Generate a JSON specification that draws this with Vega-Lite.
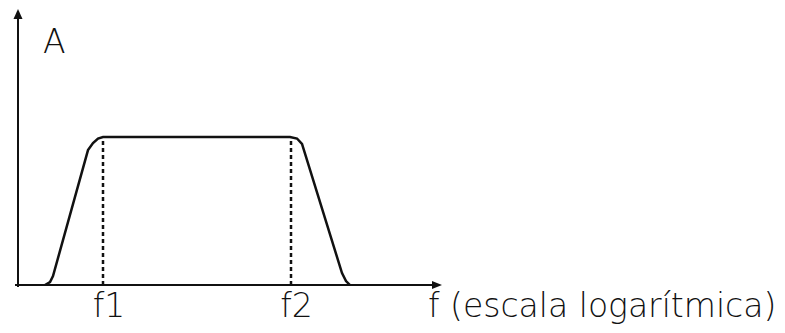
{
  "$schema": "https://vega.github.io/schema/vega-lite/v6.json",
  "autosize": {"type": "fit", "contains": "padding"},
  "width": 785,
  "height": 333,
  "padding": 0,
  "background": "white",
  "config": {"view": {"stroke": null}},
  "datasets": {
    "response": [
      {"f": 2.7, "A": 0},
      {"f": 3.2, "A": 0.02},
      {"f": 3.5, "A": 0.061},
      {"f": 7.0, "A": 0.912},
      {"f": 7.5, "A": 0.959},
      {"f": 8.0, "A": 0.99},
      {"f": 8.5, "A": 1},
      {"f": 27.2, "A": 1},
      {"f": 27.9, "A": 0.99},
      {"f": 28.4, "A": 0.953},
      {"f": 32.4, "A": 0.081},
      {"f": 32.8, "A": 0.027},
      {"f": 33.2, "A": 0}
    ],
    "cutoffs": [
      {"name": "f1", "f": 8.5, "A0": 0, "A1": 1, "labelF": 9.1},
      {"name": "f2", "f": 27.3, "A0": 0, "A1": 1, "labelF": 27.85}
    ],
    "axisLines": [
      {"x0": -0.3, "x1": 42.0, "y0": 0, "y1": 0},
      {"x0": 0, "x1": 0, "y0": -0.014, "y1": 1.8}
    ],
    "arrows": [
      {"x": 0, "y": 1.831, "dir": "up"},
      {"x": 41.9, "y": 0, "dir": "right"}
    ],
    "titles": [
      {"text": "A", "x": 2.5, "y": 1.568},
      {"text": "f (escala logarítmica)", "x": 41.0, "y": -0.216}
    ]
  },
  "layer": [
    {
      "data": {"name": "axisLines"},
      "mark": {"type": "rule", "color": "#111", "strokeWidth": 2},
      "encoding": {
        "x": {"field": "x0", "type": "quantitative", "scale": {"domain": [-1.8, 76.7], "nice": false, "zero": false}, "axis": null},
        "x2": {"field": "x1"},
        "y": {"field": "y0", "type": "quantitative", "scale": {"domain": [-0.324, 1.926], "nice": false, "zero": false}, "axis": null},
        "y2": {"field": "y1"}
      }
    },
    {
      "data": {"name": "arrows"},
      "transform": [{"filter": "datum.dir === 'up'"}],
      "mark": {"type": "point", "shape": "M0,-1L0.9,1L-0.9,1Z", "size": 100, "filled": true, "color": "#111", "opacity": 1},
      "encoding": {
        "x": {"field": "x", "type": "quantitative"},
        "y": {"field": "y", "type": "quantitative"}
      }
    },
    {
      "data": {"name": "arrows"},
      "transform": [{"filter": "datum.dir === 'right'"}],
      "mark": {"type": "point", "shape": "M1,0L-1,-0.8L-1,0.8Z", "size": 100, "filled": true, "color": "#111", "opacity": 1},
      "encoding": {
        "x": {"field": "x", "type": "quantitative"},
        "y": {"field": "y", "type": "quantitative"}
      }
    },
    {
      "data": {"name": "cutoffs"},
      "mark": {"type": "rule", "color": "#111", "strokeWidth": 2.5, "strokeDash": [4, 3]},
      "encoding": {
        "x": {"field": "f", "type": "quantitative"},
        "y": {"field": "A0", "type": "quantitative"},
        "y2": {"field": "A1"}
      }
    },
    {
      "data": {"name": "response"},
      "mark": {"type": "line", "color": "#111", "strokeWidth": 2.5, "interpolate": "linear"},
      "encoding": {
        "x": {"field": "f", "type": "quantitative"},
        "y": {"field": "A", "type": "quantitative"}
      }
    },
    {
      "data": {"name": "cutoffs"},
      "mark": {"type": "text", "font": "DejaVu Sans", "fontSize": 33, "fontWeight": 300, "color": "#111", "align": "center", "baseline": "alphabetic"},
      "encoding": {
        "x": {"field": "labelF", "type": "quantitative"},
        "y": {"datum": -0.216, "type": "quantitative"},
        "text": {"field": "name"}
      }
    },
    {
      "data": {"name": "titles"},
      "mark": {"type": "text", "font": "DejaVu Sans", "fontSize": 33, "fontWeight": 300, "color": "#111", "align": "left", "baseline": "alphabetic"},
      "encoding": {
        "x": {"field": "x", "type": "quantitative"},
        "y": {"field": "y", "type": "quantitative"},
        "text": {"field": "text"}
      }
    }
  ]
}
